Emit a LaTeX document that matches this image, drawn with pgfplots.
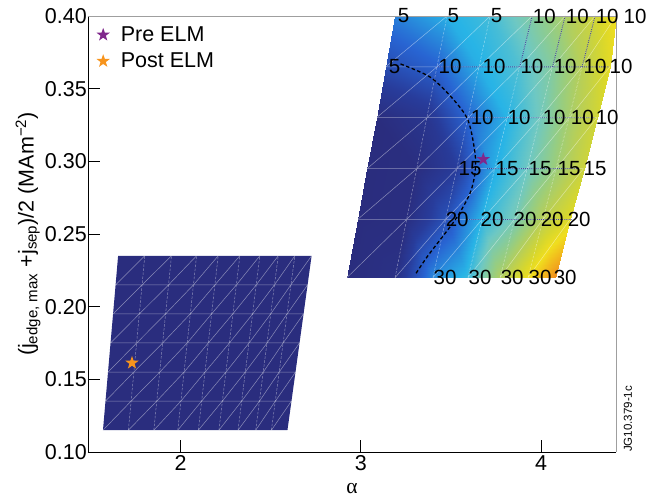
\documentclass[border=0pt]{standalone}
\usepackage{fontspec}
\setmainfont{Liberation Sans}
\newfontfamily\serifg{Liberation Serif}
\usepackage{pgfplots}
\pgfplotsset{compat=1.18}
\newcommand\ff{\fontsize{21.5bp}{25bp}\selectfont}
\definecolor{navy}{RGB}{42,45,126}
\definecolor{prepurple}{RGB}{128,40,140}
\definecolor{postorange}{RGB}{247,148,29}
\definecolor{contblue}{RGB}{60,60,150}
\pgfdeclareplotmark{pstar}{%
  \pgfpathmoveto{\pgfpointpolar{90}{\pgfplotmarksize}}%
  \pgfpathlineto{\pgfpointpolar{126}{0.40\pgfplotmarksize}}%
  \pgfpathlineto{\pgfpointpolar{162}{\pgfplotmarksize}}%
  \pgfpathlineto{\pgfpointpolar{198}{0.40\pgfplotmarksize}}%
  \pgfpathlineto{\pgfpointpolar{234}{\pgfplotmarksize}}%
  \pgfpathlineto{\pgfpointpolar{270}{0.40\pgfplotmarksize}}%
  \pgfpathlineto{\pgfpointpolar{306}{\pgfplotmarksize}}%
  \pgfpathlineto{\pgfpointpolar{342}{0.40\pgfplotmarksize}}%
  \pgfpathlineto{\pgfpointpolar{18}{\pgfplotmarksize}}%
  \pgfpathlineto{\pgfpointpolar{54}{0.40\pgfplotmarksize}}%
  \pgfpathclose\pgfusepathqfill}
\begin{document}
\begin{tikzpicture}
\begin{axis}[
  at={(0,0)}, anchor=south west,
  width=528bp, height=436bp, scale only axis,
  xmin=1.487, xmax=4.415, ymin=0.10, ymax=0.40,
  xtick={2,3,4}, ytick={0.10,0.15,0.20,0.25,0.30,0.35,0.40},
  /pgf/number format/assume math mode=true,
  yticklabel style={/pgf/number format/fixed, /pgf/number format/fixed zerofill, /pgf/number format/precision=2, inner sep=1bp},
  xticklabel style={/pgf/number format/fixed},
  ticklabel style={font=\ff},
  axis x line*=bottom, axis y line*=left,
  axis line style={-, line width=0.9bp, black},
  tick align=inside, major tick length=12bp,
  tick style={black, line width=0.9bp},
  clip=false,
  point meta min=0, point meta max=10,
  colormap={par}{rgb255(0pt)=(42,45,126); rgb255(12pt)=(40,60,155); rgb255(27pt)=(40,100,210); rgb255(44pt)=(40,180,230); rgb255(54pt)=(110,200,195); rgb255(64pt)=(150,205,130); rgb255(72pt)=(185,207,85); rgb255(80pt)=(215,215,45); rgb255(86pt)=(240,222,30); rgb255(100pt)=(242,140,28)},
  xlabel={\serifg α}, xlabel style={font=\ff, yshift=-6bp},
  ylabel={(j\textsubscript{edge, max} +j\textsubscript{sep})/2 (MAm\textsuperscript{−2})},
  ylabel style={font=\ff},
  legend style={at={(0.012,0.985)}, anchor=north west, draw=none, fill=none, font=\ff, row sep=6bp, inner sep=2bp, nodes={font=\ff},
    /tikz/every odd column/.append style={column sep=9bp}},
  legend cell align=left,
]
% lower region (uniform)
\addplot[draw=none, fill=navy, forget plot] coordinates {(1.570,0.115) (2.593,0.115) (2.727,0.235) (1.654,0.235)} -- cycle;
% upper region surface
\addplot[surf, shader=interp, mesh/cols=7, mesh/rows=6, point meta=explicit, forget plot] table[x=x,y=y,meta=c] {
x y c
2.923 0.220 0
3.190 0.220 0.3
3.400 0.220 3.5
3.594 0.220 4.7
3.772 0.220 7.0
3.927 0.220 8.6
4.077 0.220 10
2.982 0.260 0
3.253 0.260 0.1
3.470 0.260 2.0
3.672 0.260 4.5
3.851 0.260 5.6
4.009 0.260 7.2
4.160 0.260 8.2
3.035 0.295 0
3.311 0.295 0.1
3.533 0.295 1.2
3.743 0.295 4.3
3.923 0.295 5.4
4.083 0.295 6.6
4.235 0.295 7.7
3.087 0.330 0
3.367 0.330 0.7
3.595 0.330 2.7
3.813 0.330 4.4
3.994 0.330 5.5
4.156 0.330 6.8
4.309 0.330 7.8
3.138 0.365 1.8
3.422 0.365 2.6
3.656 0.365 4.3
3.881 0.365 5.0
4.063 0.365 6.0
4.227 0.365 7.2
4.381 0.365 8.3
3.190 0.400 3.3
3.478 0.400 4.3
3.717 0.400 4.8
3.950 0.400 5.9
4.133 0.400 6.9
4.299 0.400 7.8
4.415 0.400 8.6
};
% grid lines: horizontal rows and diagonals (solid)
\addplot[white, opacity=0.45, line width=0.5bp, unbounded coords=jump, forget plot] table {
x y
1.584 0.135
2.615 0.135
nan nan
1.598 0.155
2.638 0.155
nan nan
1.612 0.175
2.660 0.175
nan nan
1.626 0.195
2.682 0.195
nan nan
1.640 0.215
2.705 0.215
nan nan
1.570 0.115
1.726 0.135
1.885 0.155
2.037 0.175
2.172 0.195
2.310 0.215
2.440 0.235
nan nan
1.711 0.115
1.868 0.135
2.020 0.155
2.154 0.175
2.290 0.195
2.420 0.215
2.542 0.235
nan nan
1.852 0.115
2.002 0.135
2.136 0.155
2.271 0.175
2.400 0.195
2.521 0.215
2.634 0.235
nan nan
1.985 0.115
2.117 0.135
2.252 0.155
2.380 0.175
2.500 0.195
2.612 0.215
2.727 0.235
nan nan
2.099 0.115
2.232 0.135
2.359 0.155
2.480 0.175
2.591 0.195
2.705 0.215
nan nan
2.213 0.115
2.339 0.135
2.459 0.155
2.569 0.175
2.682 0.195
nan nan
2.319 0.115
2.438 0.135
2.547 0.155
2.660 0.175
nan nan
2.417 0.115
2.526 0.135
2.638 0.155
nan nan
2.504 0.115
2.615 0.135
nan nan
1.584 0.135
1.741 0.155
1.901 0.175
2.054 0.195
2.191 0.215
2.329 0.235
nan nan
1.598 0.155
1.757 0.175
1.917 0.195
2.072 0.215
2.209 0.235
nan nan
1.612 0.175
1.772 0.195
1.934 0.215
2.089 0.235
nan nan
1.626 0.195
1.787 0.215
1.950 0.235
nan nan
1.640 0.215
1.802 0.235
nan nan
2.982 0.260
4.160 0.260
nan nan
3.035 0.295
4.235 0.295
nan nan
3.087 0.330
4.309 0.330
nan nan
3.138 0.365
4.381 0.365
nan nan
2.923 0.220
3.253 0.260
3.533 0.295
3.813 0.330
4.063 0.365
4.299 0.400
nan nan
3.190 0.220
3.470 0.260
3.743 0.295
3.994 0.330
4.227 0.365
4.415 0.400
nan nan
3.400 0.220
3.672 0.260
3.923 0.295
4.156 0.330
4.381 0.365
nan nan
3.594 0.220
3.851 0.260
4.083 0.295
4.309 0.330
nan nan
3.772 0.220
4.009 0.260
4.235 0.295
nan nan
3.927 0.220
4.160 0.260
nan nan
2.982 0.260
3.311 0.295
3.595 0.330
3.881 0.365
4.133 0.400
nan nan
3.035 0.295
3.367 0.330
3.656 0.365
3.950 0.400
nan nan
3.087 0.330
3.422 0.365
3.717 0.400
nan nan
3.138 0.365
3.478 0.400
};
% grid lines: slanted columns (dashed look)
\addplot[white, opacity=0.45, line width=0.5bp, dash pattern=on 2.5bp off 1.5bp, unbounded coords=jump, forget plot] table {
x y
1.711 0.115
1.802 0.235
nan nan
1.852 0.115
1.950 0.235
nan nan
1.985 0.115
2.089 0.235
nan nan
2.099 0.115
2.209 0.235
nan nan
2.213 0.115
2.329 0.235
nan nan
2.319 0.115
2.440 0.235
nan nan
2.417 0.115
2.542 0.235
nan nan
2.504 0.115
2.634 0.235
nan nan
3.190 0.220
3.478 0.400
nan nan
3.400 0.220
3.717 0.400
nan nan
3.594 0.220
3.950 0.400
nan nan
3.772 0.220
4.133 0.400
nan nan
3.927 0.220
4.299 0.400
};
% dotted contour traces
\addplot[contblue, opacity=0.9, line width=0.9bp, densely dotted, unbounded coords=jump, forget plot] table {
x y
3.428 0.365
4.376 0.365
nan nan
3.606 0.330
4.299 0.330
nan nan
3.700 0.295
4.215 0.295
nan nan
3.589 0.260
4.177 0.260
nan nan
3.881 0.365
3.950 0.400
nan nan
4.063 0.365
4.133 0.400
nan nan
4.227 0.365
4.299 0.400
};
% stability boundary
\addplot[black, line width=1.3bp, dash pattern=on 3.5bp off 2.5bp, smooth, forget plot] coordinates {
(3.220,0.367) (3.384,0.358) (3.506,0.3436) (3.594,0.3284) (3.633,0.3057) (3.633,0.292) (3.606,0.2782) (3.534,0.2617) (3.439,0.2459) (3.367,0.2342) (3.300,0.2218)
};
% frame
\draw[gray!75, line width=0.9bp] (rel axis cs:0,1) -- (rel axis cs:1,1) -- (rel axis cs:1,0);
% mode number labels
\addplot[only marks, mark=*, mark size=0pt, mark options={draw=none, fill=none}, nodes near coords, point meta=explicit symbolic, every node near coord/.append style={anchor=west, inner sep=0.5bp, font=\fontsize{20.5bp}{21bp}\selectfont, black}, forget plot] table[meta=lab] {
x y lab
3.201 0.400 5
3.478 0.400 5
3.717 0.400 5
3.950 0.400 10
4.133 0.400 10
4.299 0.400 10
4.454 0.400 10
3.151 0.365 5
3.428 0.365 10
3.672 0.365 10
3.882 0.365 10
4.066 0.365 10
4.232 0.365 10
4.376 0.365 10
3.606 0.330 10
3.811 0.330 10
4.005 0.330 10
4.161 0.330 10
4.299 0.330 10
3.539 0.295 15
3.744 0.295 15
3.927 0.295 15
4.088 0.295 15
4.232 0.295 15
3.467 0.260 20
3.661 0.260 20
3.844 0.260 20
3.994 0.260 20
4.144 0.260 20
3.400 0.220 30
3.594 0.220 30
3.772 0.220 30
3.927 0.220 30
4.066 0.220 30
};
\addplot[only marks, mark=pstar, mark size=7bp, color=prepurple, mark options={fill=prepurple}] coordinates {(3.679,0.3014)};
\addlegendentry{Pre ELM}
\addplot[only marks, mark=pstar, mark size=7bp, color=postorange, mark options={fill=postorange}] coordinates {(1.731,0.1613)};
\addlegendentry{Post ELM}
\node[xshift=12bp, rotate=90, anchor=west, inner sep=0pt, font=\fontsize{11.5bp}{12bp}\selectfont] at (rel axis cs:1,0) {JG10.379-1c};
\end{axis}
\pgfresetboundingbox
\path[use as bounding box] (-88bp,-52bp) rectangle (558bp,452bp);
\end{tikzpicture}
\end{document}
